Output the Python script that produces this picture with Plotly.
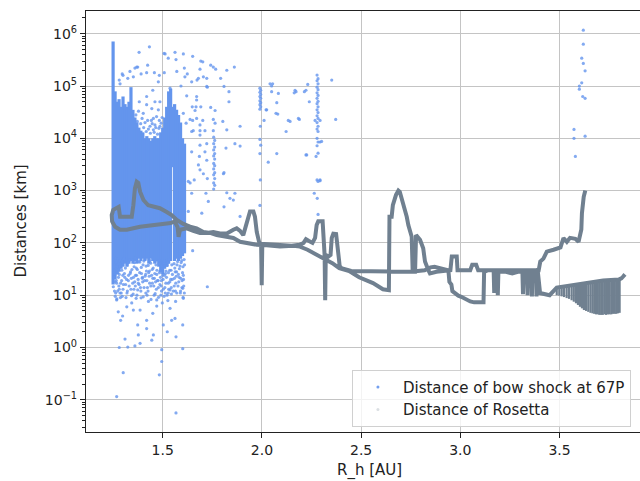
import plotly.graph_objects as go

# ---------------- Rosetta distance (R_h [AU], distance [km]) ----------------
ros_r = [3.630, 3.622, 3.613, 3.610, 3.596, 3.580, 3.553, 3.537, 3.520, 3.505,
         3.470, 3.436, 3.419, 3.403, 3.395, 3.386, 3.384, 3.381, 3.363, 3.361,
         3.358, 3.341, 3.339, 3.336, 3.319, 3.316, 3.313, 3.290, 3.262, 3.230,
         3.192, 3.189, 3.186, 3.174, 3.171, 3.168, 3.140, 3.120, 3.117, 3.100,
         3.070, 3.050, 3.030, 3.005, 2.990, 2.975, 2.960, 2.955, 2.945, 2.940,
         2.900, 2.870, 2.850, 2.820, 2.750, 2.650, 2.550, 2.450, 2.400, 2.392,
         2.388, 2.381, 2.374, 2.360, 2.352, 2.346, 2.335, 2.322, 2.319, 2.316,
         2.313, 2.306, 2.284, 2.276, 2.268, 2.255, 2.235, 2.222, 2.210, 2.190,
         2.150, 2.100, 2.050, 2.020, 2.002, 1.999, 1.996, 1.987, 1.974, 1.965,
         1.957, 1.940, 1.932, 1.923, 1.913, 1.906, 1.890, 1.873, 1.856, 1.823,
         1.789, 1.755, 1.722, 1.688, 1.654, 1.621, 1.587, 1.580, 1.575, 1.560,
         1.540, 1.520, 1.486, 1.453, 1.419, 1.386, 1.352, 1.319, 1.285, 1.260,
         1.245, 1.243,
         1.251, 1.268, 1.278, 1.285, 1.344, 1.352, 1.360, 1.369, 1.377, 1.386,
         1.403, 1.427, 1.461, 1.486, 1.520, 1.545, 1.571, 1.604, 1.638, 1.671,
         1.705, 1.739, 1.772, 1.823, 1.856, 1.890, 1.923, 1.974, 2.024, 2.091,
         2.158, 2.192, 2.230, 2.260, 2.290, 2.320, 2.355, 2.390, 2.440, 2.490,
         2.560, 2.610, 2.640, 2.643, 2.654, 2.660, 2.676, 2.688, 2.695, 2.705,
         2.713, 2.730, 2.738, 2.747, 2.755, 2.760, 2.772, 2.777, 2.797, 2.813,
         2.822, 2.839, 2.847, 2.880, 2.950, 2.957, 2.982, 2.986, 3.050, 3.060,
         3.080, 3.090, 3.120, 3.200, 3.300, 3.390, 3.402, 3.420, 3.450, 3.486,
         3.560, 3.640, 3.720, 3.800, 3.812, 3.822, 3.830]
ros_d = [1000, 760, 370, 180, 105, 120, 125, 105, 124, 82,
         74, 68, 50, 44, 30, 30, 9.5, 30, 29, 9.5,
         29, 28, 10, 28, 28, 10.5, 28, 28, 26, 28,
         28, 10, 28, 30, 11, 30, 30, 28, 7.3, 7.2,
         7.3, 7.6, 8.5, 9.3, 9.8, 11, 12, 16, 18, 30,
         32, 35, 34, 30, 28, 28, 28, 29, 33, 36,
         50, 105, 148, 150, 124, 59, 55, 59, 8, 59,
         141, 258, 258, 219, 124, 100, 110, 118, 100, 92,
         88, 90, 92, 95, 96, 15.5, 96, 100, 162, 316,
         400, 400, 300, 219, 160, 141, 170, 190, 178, 151,
         151, 162, 155, 155, 170, 190, 178, 131, 200, 257,
         240, 235, 225, 220, 214, 204, 190, 178, 178, 204,
         257, 340,
         430, 460, 490, 316, 316, 525, 1100, 1480, 1400, 950,
         660, 525, 490, 460, 390, 340, 275, 230, 204, 190,
         162, 155, 141, 131, 124, 105, 100, 92, 90, 85,
         88, 85, 74, 63, 55, 48, 41, 33, 29, 22,
         17, 13, 12.5, 316, 316, 525, 830, 1000, 950, 710,
         490, 316, 219, 178, 131, 28, 28, 141, 115, 79,
         44, 30, 26, 28, 30, 55, 55, 30, 30, 38,
         38, 30, 30, 29, 29, 30, 11, 10.5, 10, 14,
         15.5, 17.5, 19, 20, 21, 23, 25]

# late-2016 close orbits (comb)
saw_r = [3.486, 3.499, 3.511, 3.523, 3.536, 3.548, 3.561, 3.572, 3.583, 3.593,
         3.603, 3.613, 3.623, 3.634, 3.645, 3.656, 3.666, 3.675, 3.684, 3.693,
         3.701, 3.710, 3.718, 3.727, 3.735, 3.744, 3.752, 3.761, 3.770, 3.778,
         3.786, 3.795, 3.803]
saw_hi = [14, 14.5, 14.5, 15, 15, 15.5, 15.5, 16, 16, 16.5,
          16.5, 17, 17, 17.5, 17.5, 18, 18, 18, 18.5, 18.5,
          18.5, 19, 19, 19, 19, 19.5, 19.5, 19.5, 19.5, 19.5,
          20, 20, 20]
saw_lo = [10, 9.8, 9.5, 9.2, 8.8, 8.5, 8.0, 7.5, 7.0, 6.5,
          6.0, 5.6, 5.2, 5.0, 4.8, 4.6, 4.5, 4.4, 4.3, 4.3,
          4.2, 4.2, 4.2, 4.3, 4.2, 4.3, 4.3, 4.3, 4.4, 4.4,
          4.4, 4.5, 4.6]

# ---------------- bow shock distance: dense core (per R_h column) ----------------
core_r = [1.25, 1.26, 1.27, 1.28, 1.29, 1.30, 1.31, 1.32, 1.33, 1.34,
          1.35, 1.36, 1.37, 1.38, 1.39, 1.40, 1.41, 1.42, 1.43, 1.44,
          1.45, 1.46, 1.47, 1.48, 1.49, 1.50, 1.51, 1.52, 1.53, 1.54,
          1.55, 1.56, 1.57, 1.58, 1.59, 1.60, 1.61]
core_hi = [710000, 79000, 50000, 56000, 40000, 63000, 45000, 40000, 50000, 95000,
           35000, 25000, 20000, 16000, 14000, 13000, 10000, 11000, 10000, 8900,
           10000, 11000, 10000, 10000, 13000, 16000, 25000, 40000, 79000, 89000,
           40000, 45000, 35000, 28000, 20000, 10000, 7900]
core_lo = [16, 20, 25, 28, 32, 35, 40, 35, 40, 45,
           40, 45, 40, 50, 45, 50, 45, 50, 40, 50,
           45, 40, 45, 35, 28, 25, 32, 35, 40, 45,
           2800, 45, 50, 45, 50, 56, 63]

# ---------------- bow shock distance: individual points ----------------
bs_r = [1.433, 1.381, 1.512, 1.562, 1.604, 1.528, 1.567, 1.609, 1.424, 1.374,
        1.360, 1.335, 1.391, 1.419, 1.458, 1.296, 1.324, 1.352, 1.483, 1.508,
        1.571, 1.612, 1.285, 1.478, 1.537, 1.592, 1.450, 1.419, 1.461, 1.486,
        1.419, 1.382, 1.445, 1.478, 1.453, 1.483, 1.424, 1.402, 1.461, 1.436,
        1.369, 1.300, 1.281, 1.507, 1.443, 1.453, 1.469, 1.486,
        1.365, 1.372, 1.378, 1.389, 1.396, 1.404, 1.411, 1.417, 1.428, 1.438,
        1.447, 1.457, 1.465, 1.474, 1.481, 1.492, 1.497,
        1.651, 1.692, 1.702, 1.742, 1.755, 1.767, 1.823, 1.861, 1.624, 1.673,
        1.705, 1.722, 1.792, 1.688, 1.725, 1.809, 1.834, 1.834, 1.621, 1.671,
        1.671, 1.649, 1.668, 1.692, 1.742, 1.663, 1.764, 1.604, 1.638, 1.651,
        1.702, 1.755, 1.803, 1.764, 1.890, 1.688, 1.618, 1.654, 1.688, 1.713,
        1.755, 1.823, 1.864, 1.890, 1.819, 1.688, 1.646, 1.713, 1.685, 1.722,
        1.680, 1.688, 1.705, 1.809, 1.725, 1.638, 1.659, 1.718, 1.823, 1.839,
        1.646, 1.730, 1.864, 1.890, 1.629, 1.671, 1.646, 1.688, 1.722, 1.806,
        1.809, 1.856, 1.697, 1.629, 1.646, 1.680, 1.722,
        1.757, 1.762, 1.757, 1.762, 1.757, 1.762, 1.757, 1.762, 1.757, 1.762,
        1.757, 1.762, 1.757, 1.762, 1.757, 1.762, 1.757,
        1.990, 1.994, 1.990, 1.994, 1.990, 1.994, 1.990, 1.994, 1.990, 1.994,
        1.990, 1.992, 1.990, 1.994, 1.990, 1.992, 1.990,
        2.041, 2.054, 2.049, 2.021, 2.075, 2.080, 2.011, 2.133, 2.142, 2.122,
        2.189, 2.163, 2.172, 2.214, 2.222, 2.231, 2.239, 2.075, 2.032, 2.222,
        2.083, 2.071, 2.024, 2.049, 2.167, 2.184, 2.226,
        2.278, 2.283, 2.278, 2.283, 2.278, 2.283, 2.278, 2.283, 2.278, 2.283,
        2.278, 2.283, 2.278, 2.283, 2.278, 2.283, 2.278, 2.283, 2.278, 2.283,
        2.278, 2.283, 2.278, 2.283, 2.278, 2.283, 2.279, 2.283,
        2.268, 2.293, 2.273, 2.293, 2.264, 2.352, 2.372, 2.293, 2.301, 2.293,
        3.620, 3.620, 3.612, 3.620, 3.629, 3.612, 3.600, 3.600, 3.617, 3.629,
        3.573, 3.573, 3.629, 3.580,
        1.262, 1.271, 1.283, 1.294, 1.305, 1.312, 1.326, 1.338, 1.347, 1.356,
        1.364, 1.372, 1.385, 1.393, 1.401, 1.412, 1.418, 1.427, 1.436, 1.444,
        1.452, 1.463, 1.471, 1.482, 1.489, 1.497, 1.505, 1.514, 1.523, 1.531,
        1.542, 1.557, 1.563, 1.572, 1.584, 1.593, 1.602, 1.608,
        1.258, 1.266, 1.277, 1.288, 1.299, 1.318, 1.331, 1.342, 1.359, 1.368,
        1.381, 1.397, 1.409, 1.423, 1.432, 1.448, 1.458, 1.468, 1.477, 1.486,
        1.494, 1.502, 1.511, 1.519, 1.528, 1.537, 1.548, 1.558, 1.568, 1.581,
        1.597, 1.605,
        1.254, 1.257, 1.265, 1.269, 1.274, 1.279, 1.286, 1.291, 1.297, 1.302,
        1.307, 1.315, 1.321, 1.328, 1.334, 1.340, 1.345, 1.353, 1.358, 1.362,
        1.367, 1.376, 1.379, 1.388, 1.392, 1.399, 1.405, 1.411, 1.416, 1.421,
        1.429, 1.434, 1.439, 1.447, 1.455, 1.460, 1.466, 1.473, 1.480, 1.484,
        1.492, 1.495, 1.500, 1.508, 1.513, 1.517, 1.525, 1.530, 1.535, 1.540,
        1.546, 1.553, 1.561, 1.566, 1.575, 1.579, 1.587, 1.591, 1.596, 1.600,
        1.606, 1.610,
        1.256, 1.261, 1.268, 1.273, 1.281, 1.287, 1.293, 1.300, 1.309, 1.313,
        1.320, 1.327, 1.336, 1.343, 1.349, 1.355, 1.363, 1.370, 1.377, 1.384,
        1.390, 1.398, 1.406, 1.414, 1.420, 1.426, 1.433, 1.440, 1.450, 1.457,
        1.464, 1.470, 1.478, 1.487, 1.493, 1.503, 1.509, 1.516, 1.522, 1.529,
        1.536, 1.543, 1.549, 1.559, 1.564, 1.570, 1.577, 1.583, 1.590, 1.598,
        1.604, 1.609,
        1.263, 1.281, 1.296, 1.322, 1.351, 1.374, 1.391, 1.415, 1.441, 1.462,
        1.479, 1.491, 1.498, 1.507, 1.526, 1.544, 1.565, 1.589, 1.603,
        1.268, 1.301, 1.281, 1.310, 1.324, 1.360, 1.386, 1.377, 1.374, 1.419,
        1.445, 1.453, 1.495, 1.495, 1.483, 1.567, 1.567, 1.601, 1.601, 1.651,
        1.725, 1.251, 1.260, 1.268, 1.276, 1.288, 1.298, 1.352, 1.386, 1.419,
        1.450, 1.503, 1.523, 1.545, 1.562, 1.537, 1.470, 1.319, 1.344, 1.428,
        1.470, 1.604, 1.601, 1.571, 1.285, 1.366, 1.402, 1.528]
bs_d = [560000, 440000, 410000, 440000, 410000, 340000, 320000, 220000, 250000, 230000,
        220000, 190000, 170000, 180000, 180000, 170000, 140000, 150000, 160000, 180000,
        190000, 150000, 110000, 120000, 91000, 100000, 83000, 63000, 50000, 50000,
        44000, 50000, 37000, 35000, 24000, 22000, 22000, 30000, 18000, 17000,
        230000, 160000, 130000, 420000, 22000, 14500, 26000, 17000,
        28000, 21000, 33000, 19000, 24000, 16000, 20000, 13500, 15000, 12500,
        19000, 13000, 16000, 12000, 15500, 19500, 25000,
        370000, 300000, 290000, 250000, 230000, 210000, 200000, 230000, 170000, 130000,
        150000, 140000, 140000, 210000, 95000, 98000, 78000, 50000, 65000, 63000,
        54000, 40000, 40000, 40000, 39000, 34000, 34000, 30000, 23000, 22000,
        22000, 23000, 21000, 19500, 17000, 18000, 19500, 14000, 14000, 14000,
        14000, 14500, 7900, 7100, 6500, 7400, 5500, 5500, 4500, 3800,
        3100, 2500, 2100, 2200, 1700, 1400, 1600, 890, 910, 710,
        890, 620, 890, 320, 1500, 24000, 13500, 11500, 7900, 2100,
        490, 660, 370, 400, 120000, 140000, 98000,
        10500, 9100, 7900, 6800, 6000, 5100, 4600, 4000, 3300, 3000,
        2600, 2200, 2000, 1700, 1400, 1260, 1070,
        91000, 83000, 76000, 69000, 63000, 58000, 52000, 48000, 44000, 40000,
        36000, 17000, 9500, 7400, 5100, 1600, 520,
        110000, 110000, 78000, 35000, 48000, 29000, 22000, 22000, 21000, 13500,
        23000, 74000, 78000, 78000, 83000, 107000, 50000, 5100, 3500, 4800,
        72000, 30000, 35000, 100000, 83000, 24000, 4800,
        162000, 138000, 126000, 110000, 95000, 85000, 74000, 66000, 58000, 51000,
        46000, 40000, 35000, 31000, 27000, 24000, 20000, 17000, 15000, 13500,
        10000, 8500, 7200, 5200, 1600, 1500, 710, 350,
        22000, 8500, 4500, 1550, 890, 130000, 23000, 22000, 8700, 1600,
        1170000, 630000, 340000, 270000, 195000, 115000, 100000, 87000, 63000, 58000,
        14800, 10000, 11000, 4500,
        52, 35, 46, 30, 50, 33, 42, 28, 48, 35,
        51, 31, 43, 26, 38, 49, 29, 37, 46, 24,
        33, 44, 30, 40, 22, 32, 42, 26, 37, 48,
        30, 40, 28, 38, 32, 42, 35, 48,
        25, 19, 22, 17, 24, 20, 15, 21, 18, 24,
        16, 21, 19, 14, 23, 17, 21, 13, 19, 16,
        12, 20, 14, 22, 17, 12.6, 20, 15, 23, 18,
        14, 20,
        30, 12, 42, 8.5, 27, 15, 36, 11, 44, 16,
        26, 9, 38, 24, 47, 13, 31, 22, 42, 15,
        33, 20, 44, 14, 34, 18, 45, 23, 36, 10,
        27, 17, 41, 31, 15, 26, 38, 19, 46, 27,
        15, 36, 24, 45, 11, 29, 41, 13, 30, 20,
        38, 12, 33, 17, 44, 25, 36, 21, 46, 27,
        15, 38,
        22, 9.5, 17, 12, 25, 9, 19, 13, 22, 16,
        11, 19, 26, 9.8, 17, 13, 24, 10, 17, 27,
        12, 22, 14, 25, 19, 12, 29, 15, 21, 10,
        18, 25, 14, 29, 19, 13, 24, 17, 10, 27,
        18, 14, 25, 21, 12, 28, 15, 22, 12, 19,
        24, 11,
        11, 13, 9.5, 12, 10.5, 12.6, 8.9, 11, 8.3, 10.7,
        9.1, 10, 7.1, 9.5, 7.9, 10.5, 7.6, 11, 9.1,
        0.115, 0.33, 1.0, 1.45, 1.02, 1.07, 1.2, 1.74, 2.7, 2.3,
        1.38, 1.74, 0.91, 0.54, 0.30, 0.056, 1.6, 0.95, 2.7, 71,
        14.5, 14.5, 18, 8.1, 4.8, 3.3, 4.0, 5.2, 5.2, 3.3,
        4.5, 2.7, 2.0, 3.3, 3.6, 5.6, 6.2, 6.0, 7.1, 7.6,
        8.1, 8.7, 13.5, 11, 11, 8.7, 9.3, 11]

x_ticks = [1.5, 2.0, 2.5, 3.0, 3.5]
x_ticktext = ["1.5", "2.0", "2.5", "3.0", "3.5"]
y_ticks = [0.1, 1, 10, 100, 1000, 10000, 100000, 1000000]
y_ticktext = ["10<sup>\u22121</sup>", "10<sup>0</sup>", "10<sup>1</sup>", "10<sup>2</sup>",
              "10<sup>3</sup>", "10<sup>4</sup>", "10<sup>5</sup>", "10<sup>6</sup>"]

BLUE = "#6495ED"
GRAY = "#708090"

# build column segments (lo -> hi) for the dense core and the comb
cx, cy = [], []
for r, hi, lo in zip(core_r, core_hi, core_lo):
    cx += [r, r, None]
    cy += [lo, hi, None]
sx, sy = [], []
for r, hi, lo in zip(saw_r, saw_hi, saw_lo):
    sx += [r, r, None]
    sy += [lo, hi, None]

fig = go.Figure()
fig.add_trace(go.Scatter(x=cx, y=cy, mode="lines", line=dict(color=BLUE, width=3.2),
                         showlegend=False, hoverinfo="skip"))
fig.add_trace(go.Scatter(x=bs_r, y=bs_d, mode="markers",
                         marker=dict(color="rgba(100,149,237,0.8)", size=3.2, line=dict(width=0)),
                         showlegend=False))
fig.add_trace(go.Scatter(x=ros_r, y=ros_d, mode="lines", line=dict(color=GRAY, width=4),
                         showlegend=False))
fig.add_trace(go.Scatter(x=sx, y=sy, mode="lines", line=dict(color=GRAY, width=2.2),
                         showlegend=False, hoverinfo="skip"))
# legend entries
fig.add_trace(go.Scatter(x=[None], y=[None], mode="markers", name="Distance of bow shock at 67P",
                         marker=dict(color="rgba(100,149,237,0.9)", size=3)))
fig.add_trace(go.Scatter(x=[None], y=[None], mode="markers", name="Distance of Rosetta",
                         marker=dict(color="rgba(112,128,144,0.25)", size=3)))

axis_common = dict(showgrid=True, gridcolor="#c4c4c4", gridwidth=1, showline=True,
                   linecolor="#222222", linewidth=1.2, ticks="outside", ticklen=5,
                   tickwidth=1.1, tickcolor="#222222", zeroline=False,
                   tickfont=dict(family="DejaVu Sans", size=14, color="#222222"))

fig.update_layout(
    width=640, height=481,
    margin=dict(l=86, r=0, t=11, b=49),
    paper_bgcolor="white", plot_bgcolor="white",
    font=dict(family="DejaVu Sans", size=15, color="#222222"),
    xaxis=dict(range=[1.1134, 3.9057], tickmode="array", tickvals=x_ticks,
               ticktext=x_ticktext, mirror=True, **axis_common),
    yaxis=dict(type="log", range=[-1.616, 6.434], tickmode="array", tickvals=y_ticks,
               ticktext=y_ticktext, mirror=False,
               minor=dict(ticks="outside", ticklen=3, tickwidth=0.8, tickcolor="#222222",
                          dtick="D1", showgrid=False),
               **axis_common),
    legend=dict(x=0.48, y=0.148, xanchor="left", yanchor="top", itemwidth=40,
                bgcolor="rgba(255,255,255,0.8)", bordercolor="#d0d0d0", borderwidth=1,
                font=dict(family="DejaVu Sans", size=15, color="#222222")),
    annotations=[
        dict(text="R_h [AU]", xref="paper", yref="paper", x=0.5126, y=-0.0926,
             xanchor="center", yanchor="middle", showarrow=False,
             font=dict(family="DejaVu Sans", size=15, color="#222222")),
        dict(text="Distances [km]", xref="paper", yref="paper", x=-0.119, y=0.5,
             xanchor="center", yanchor="middle", showarrow=False, textangle=-90,
             font=dict(family="DejaVu Sans", size=15, color="#222222")),
    ],
)

fig.write_html("out.html")
